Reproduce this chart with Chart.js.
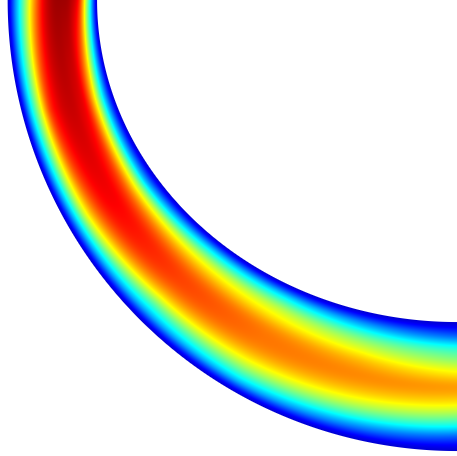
<!DOCTYPE html>
<html>
<head>
<meta charset="utf-8">
<title>Curved channel field</title>
<script src="https://cdn.jsdelivr.net/npm/chart.js@4.4.1/dist/chart.umd.min.js"></script>
<style>
  html, body { margin: 0; padding: 0; background: #ffffff; }
  #wrap { width: 457px; height: 456px; }
</style>
</head>
<body>
<div id="wrap"><canvas id="chart" width="457" height="456"></canvas></div>
<script>
// Stations along the bend, in degrees (0 = entry at the top, 90 = exit on the right)
const arcAngles = [0, 15, 30, 45, 60, 75, 90];
// Positions across the channel: 0 = outer wall, 1 = inner wall
const crossPositions = [0, 0.1, 0.2, 0.3, 0.4, 0.5, 0.6, 0.7, 0.8, 0.9, 1];

// Field value profiles across the channel at each station
const profileAt0  = [0.08, 0.30, 0.52, 0.73, 0.89, 0.96, 0.97, 0.95, 0.84, 0.47, 0.08];
const profileAt15 = [0.08, 0.34, 0.58, 0.81, 0.90, 0.93, 0.92, 0.86, 0.64, 0.33, 0.08];
const profileAt30 = [0.08, 0.33, 0.58, 0.75, 0.85, 0.88, 0.86, 0.76, 0.56, 0.28, 0.08];
const profileAt45 = [0.08, 0.30, 0.48, 0.66, 0.77, 0.81, 0.79, 0.70, 0.56, 0.34, 0.08];
const profileAt60 = [0.08, 0.32, 0.50, 0.64, 0.73, 0.76, 0.74, 0.65, 0.54, 0.34, 0.08];
const profileAt75 = [0.08, 0.26, 0.45, 0.60, 0.70, 0.74, 0.70, 0.60, 0.47, 0.28, 0.08];
const profileAt90 = [0.08, 0.20, 0.39, 0.55, 0.67, 0.72, 0.64, 0.52, 0.40, 0.21, 0.08];
const profiles = [profileAt0, profileAt15, profileAt30, profileAt45, profileAt60, profileAt75, profileAt90];

// Channel walls (bend centre at the origin): circular outer wall, elliptical inner wall
const outerRadius = 1.0;
const innerRadiusX = 0.801;
const innerRadiusY = 0.714;

// MATLAB-style jet colour map
function jet(v) {
  const c = (t) => Math.max(0, Math.min(1, t));
  return [
    c(1.5 - Math.abs(4 * v - 3)),
    c(1.5 - Math.abs(4 * v - 2)),
    c(1.5 - Math.abs(4 * v - 1))
  ];
}

// Catmull-Rom sample of one profile at position s
function sampleProfile(p, s) {
  const n = p.length - 1;
  const f = Math.max(0, Math.min(n, s * n));
  const i = Math.min(n - 1, Math.floor(f));
  const t = f - i;
  const p0 = p[Math.max(0, i - 1)], p1 = p[i], p2 = p[i + 1], p3 = p[Math.min(n, i + 2)];
  const t2 = t * t, t3 = t2 * t;
  return 0.5 * ((2 * p1) + (-p0 + p2) * t + (2 * p0 - 5 * p1 + 4 * p2 - p3) * t2 + (-p0 + 3 * p1 - 3 * p2 + p3) * t3);
}

function fieldValue(angle, s) {
  const step = arcAngles[1] - arcAngles[0];
  const f = Math.max(0, Math.min(arcAngles.length - 1, (angle - arcAngles[0]) / step));
  const i = Math.min(arcAngles.length - 2, Math.floor(f));
  const t = f - i;
  const a = sampleProfile(profiles[i], s);
  const b = sampleProfile(profiles[i + 1], s);
  return a + (b - a) * t;
}

// Paints the field into the plot area through the x/y scales
const fieldPlugin = {
  id: 'bendField',
  beforeDatasetsDraw(chart) {
    const { ctx, chartArea, scales } = chart;
    const w = Math.round(chartArea.right - chartArea.left);
    const h = Math.round(chartArea.bottom - chartArea.top);
    const off = document.createElement('canvas');
    off.width = w; off.height = h;
    const octx = off.getContext('2d');
    const img = octx.createImageData(w, h);
    const xs = new Float64Array(w), ys = new Float64Array(h);
    for (let i = 0; i < w; i++) xs[i] = scales.x.getValueForPixel(chartArea.left + i + 0.5);
    for (let j = 0; j < h; j++) ys[j] = scales.y.getValueForPixel(chartArea.top + j + 0.5);
    const unitPx = Math.abs(scales.x.getPixelForValue(1) - scales.x.getPixelForValue(0));
    for (let j = 0; j < h; j++) {
      const y = ys[j];
      for (let i = 0; i < w; i++) {
        const x = xs[i];
        const rho = Math.hypot(x, y);
        let ang = Math.atan2(-y, -x);
        ang = Math.max(0, Math.min(Math.PI / 2, ang));
        const ca = Math.cos(ang), sa = Math.sin(ang);
        const rIn = 1 / Math.sqrt((ca * ca) / (innerRadiusX * innerRadiusX) + (sa * sa) / (innerRadiusY * innerRadiusY));
        const aOut = Math.max(0, Math.min(1, (outerRadius - rho) * unitPx + 0.5));
        const aIn = Math.max(0, Math.min(1, (rho - rIn) * unitPx + 0.5));
        const alpha = aOut * aIn;
        if (alpha <= 0) continue;
        const s = Math.max(0, Math.min(1, (outerRadius - rho) / (outerRadius - rIn)));
        const v = fieldValue(ang * 180 / Math.PI, s);
        const col = jet(v);
        const k = (j * w + i) * 4;
        img.data[k] = Math.round(col[0] * 255);
        img.data[k + 1] = Math.round(col[1] * 255);
        img.data[k + 2] = Math.round(col[2] * 255);
        img.data[k + 3] = Math.round(alpha * 255);
      }
    }
    octx.putImageData(img, 0, 0);
    ctx.save();
    ctx.drawImage(off, chartArea.left, chartArea.top);
    ctx.restore();
  }
};

new Chart(document.getElementById('chart'), {
  type: 'scatter',
  data: { datasets: [{ label: 'field', data: [], pointRadius: 0 }] },
  options: {
    responsive: false,
    animation: false,
    devicePixelRatio: 1,
    layout: { padding: 0 },
    plugins: { legend: { display: false }, tooltip: { enabled: false } },
    scales: {
      x: { type: 'linear', min: -1.017, max: 0, display: false },
      y: { type: 'linear', min: -1.011, max: 0, display: false }
    }
  },
  plugins: [fieldPlugin]
});
</script>
</body>
</html>
